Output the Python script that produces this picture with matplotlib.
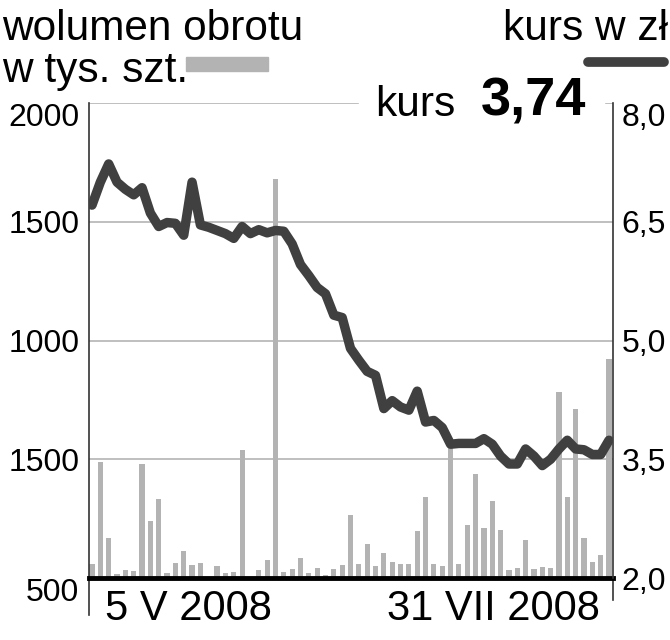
import matplotlib.pyplot as plt
import numpy as np

plt.rcParams['font.family'] = ['Liberation Sans', 'DejaVu Sans']

# wolumen obrotu (tys. szt.) i kurs (zł) - sesje od 5 V do 31 VII 2008
volume = [59, 487, 170, 17, 35, 31, 480, 239, 333, 21, 65, 114, 55, 63, 3, 49,
          21, 27, 541, 3, 34, 75, 1678, 27, 39, 84, 20, 42, 14, 37, 56, 264,
          58, 143, 49, 104, 68, 60, 60, 200, 339, 59, 52, 560, 58, 222, 439,
          211, 326, 204, 32, 41, 162, 38, 45, 44, 785, 339, 712, 169, 66, 98, 921]
price = [6.71, 7.00, 7.23, 7.00, 6.91, 6.84, 6.93, 6.61, 6.44, 6.49, 6.48, 6.33,
         7.00, 6.46, 6.43, 6.39, 6.35, 6.29, 6.44, 6.35, 6.40, 6.36, 6.39, 6.38,
         6.22, 5.96, 5.82, 5.67, 5.59, 5.32, 5.29, 4.90, 4.75, 4.61, 4.56, 4.14,
         4.24, 4.16, 4.12, 4.36, 3.97, 3.99, 3.90, 3.69, 3.70, 3.70, 3.70, 3.76,
         3.69, 3.54, 3.44, 3.44, 3.63, 3.54, 3.42, 3.50, 3.63, 3.74, 3.63, 3.62,
         3.56, 3.56, 3.74]
vol_ticks = [0, 500, 1000, 1500, 2000]
vol_labels = ['500', '1500', '1000', '1500', '2000']
price_ticks = [2.0, 3.5, 5.0, 6.5, 8.0]
price_labels = ['2,0', '3,5', '5,0', '6,5', '8,0']
date_labels = ['5 V 2008', '31 VII 2008']
date_pos = [11.6, 48.1]
last_price = '3,74'

bar_c = '#b3b3b3'
line_c = '#404040'
grid_c = '#b4b4b4'

fig = plt.figure(figsize=(6.7, 6.4), dpi=100)
ax = fig.add_axes([89 / 670, 1 - 578 / 640, 524 / 670, 475 / 640])
x = np.arange(len(volume))

ax.bar(x, volume, width=0.62, color=bar_c, zorder=2)
ax.set_xlim(-0.36, len(volume) - 1 + 0.48)
ax.set_ylim(0, 2000)
for v in vol_ticks[1:]:
    ax.axhline(v, color=grid_c, lw=1.2, zorder=1)

ax.set_yticks(vol_ticks)
ax.set_yticklabels(vol_labels, fontsize=23)
ax.tick_params(axis='y', length=0, pad=7)
ylab = ax.get_yticklabels()
ylab[-1].set_va('top')
ylab[0].set_va('top')

ax.set_xticks(date_pos)
ax.set_xticklabels(date_labels, fontsize=30)
ax.tick_params(axis='x', length=0, pad=8)

for s in ['top', 'right']:
    ax.spines[s].set_visible(False)
ax.spines['left'].set_color('#333333')
ax.spines['left'].set_linewidth(1.2)
ax.spines['bottom'].set_color('black')
ax.spines['bottom'].set_linewidth(3.5)
ax.spines['bottom'].set_zorder(5)

# kreski pod osią
ax.plot([0, 0], [0, -37 / 475], transform=ax.transAxes, color='#333333',
        lw=1.2, clip_on=False)
ax.plot([1, 1], [0, -22 / 475], transform=ax.transAxes, color='#333333',
        lw=1.2, clip_on=False)

ax2 = ax.twinx()
ax2.plot(x, price, color=line_c, lw=6.8, solid_joinstyle='round',
         solid_capstyle='round', zorder=3)
ax2.set_ylim(2, 8)
ax2.set_yticks(price_ticks)
ax2.set_yticklabels(price_labels, fontsize=23)
ax2.tick_params(axis='y', length=0, pad=6)
ax2.get_yticklabels()[-1].set_va('top')
for s in ['top', 'left', 'bottom']:
    ax2.spines[s].set_visible(False)
ax2.spines['right'].set_color('#333333')
ax2.spines['right'].set_linewidth(1.2)

# legenda i opisy
fig.text(2 / 670, 1 - 40 / 640, 'wolumen obrotu', fontsize=30.5, ha='left',
         va='baseline')
fig.text(2 / 670, 1 - 82 / 640, 'w tys. szt.', fontsize=30.5, ha='left',
         va='baseline')
fig.patches.append(plt.Rectangle((186 / 670, 1 - 71 / 640), 82 / 670, 14 / 640,
                                 transform=fig.transFigure, color=bar_c))
fig.text(503 / 670, 1 - 40 / 640, 'kurs w zł', fontsize=30.5, ha='left',
         va='baseline')
fig.add_artist(plt.Line2D([588 / 670, 664 / 670], [1 - 62 / 640, 1 - 62 / 640],
                          color=line_c, lw=7, solid_capstyle='round'))
# białe tło pod "kurs 3,74" zasłania górną linię siatki
fig.patches.append(plt.Rectangle((359 / 670, 1 - 112 / 640), 245 / 670, 20 / 640,
                                 transform=fig.transFigure, color='white',
                                 zorder=2))
fig.text(375 / 670, 1 - 116 / 640, 'kurs', fontsize=30.5, ha='left',
         va='baseline', zorder=4)
fig.text(481 / 670, 1 - 116 / 640, last_price, fontsize=39, fontweight='bold',
         ha='left', va='baseline', zorder=4)

fig.savefig('out.png', dpi=100)
